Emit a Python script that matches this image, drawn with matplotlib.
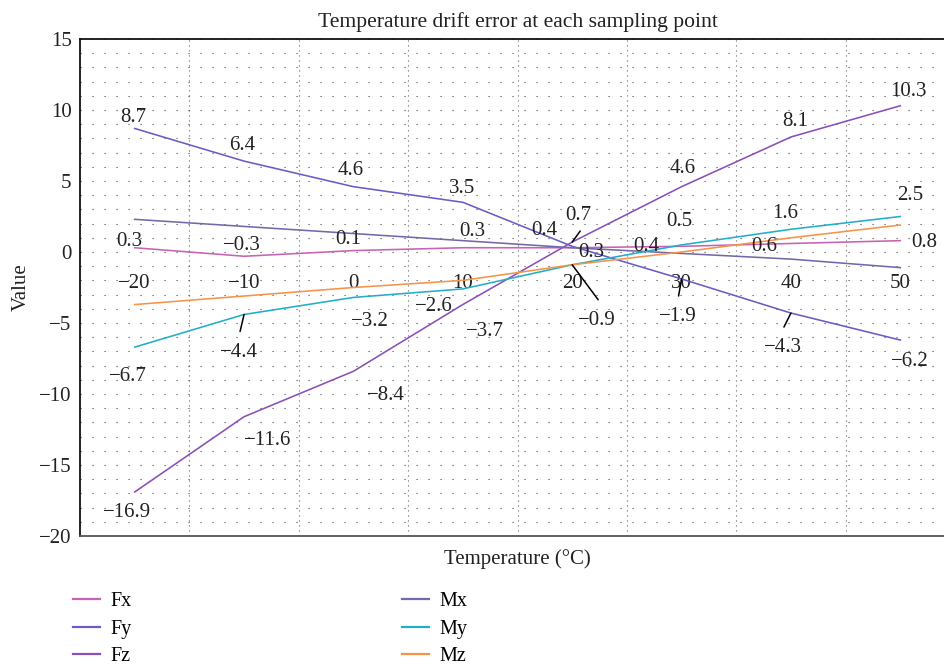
import matplotlib
matplotlib.use('Agg')
import matplotlib.pyplot as plt
from matplotlib.ticker import MultipleLocator, FixedLocator
from matplotlib.lines import Line2D

# ---------------- data ----------------
temps = [-20, -10, 0, 10, 20, 30, 40, 50]
temp_labels = ['\u221220', '\u221210', '0', '10', '20', '30', '40', '50']
series_names = ['Fx', 'Fy', 'Fz', 'Mx', 'My', 'Mz']
Fx = [0.3, -0.3, 0.1, 0.3, 0.3, 0.4, 0.6, 0.8]
Fy = [8.7, 6.4, 4.6, 3.5, 0.4, -1.9, -4.3, -6.2]
Fz = [-16.9, -11.6, -8.4, -3.7, 0.7, 4.6, 8.1, 10.3]
Mx = [2.3, 1.8, 1.3, 0.8, 0.3, -0.1, -0.5, -1.1]
My = [-6.7, -4.4, -3.2, -2.6, -0.9, 0.5, 1.6, 2.5]
Mz = [-3.7, -3.1, -2.5, -2.0, -0.9, 0.0, 1.0, 1.9]
yticks = [-20, -15, -10, -5, 0, 5, 10, 15]

# ---------------- styles ----------------
colors = {'Fx': '#c862b4', 'Fy': '#6b5cc4', 'Fz': '#8a4fb8',
          'Mx': '#7767a9', 'My': '#22aec8', 'Mz': '#f59448'}

# value-label placement: (index, dx_px, dy_px) relative to the data point
label_offsets = {
    'Fx': [(0, -5, 6), (1, -2, 11), (2, -5, 11), (3, 10, 16), (4, 19, -5),
           (5, -35, 0), (6, -27, -3), (7, 24, -2)],
    'Fy': [(0, -1, 11), (1, -2, 16), (2, -3, 16), (3, -1, 14), (4, -28, 16),
           (5, -4, -38), (6, -8, -34), (7, 10, -21)],
    'Fz': [(0, -8, -21), (1, 24, -24), (2, 32, -24), (3, 22, -27), (4, 6, 27),
           (5, 1, 18), (6, 4, 15), (7, 8, 14)],
    'Mx': [],
    'My': [(0, -7, -29), (1, -5, -38), (2, 16, -24), (3, -29, -18), (4, 25, -56),
           (5, -2, 23), (6, -6, 16), (7, 10, 21)],
    'Mz': [],
}
# leader lines: (series, index, start dx,dy px, end dx,dy px)
leaders = [('My', 1, 0, 0, -4, -17), ('My', 4, 1, 0, 26, -35),
           ('Fz', 4, 2, 0, 8, 11), ('Fy', 5, 0, -1, -3, -17),
           ('Fy', 6, 1, 0, -7, -14)]

data = {'Fx': Fx, 'Fy': Fy, 'Fz': Fz, 'Mx': Mx, 'My': My, 'Mz': Mz}

plt.rcParams['font.family'] = ['Liberation Serif', 'DejaVu Serif']
plt.rcParams['axes.unicode_minus'] = True
FS = 15
PX = 72.0 / 100.0  # px -> pt

fig = plt.figure(figsize=(9.45, 6.65), dpi=100)
ax = fig.add_axes([80 / 945, 129 / 665, 875 / 945, 497 / 665])

for name in series_names:
    ax.plot(temps, data[name], color=colors[name], lw=1.15, zorder=3)

def fmt(v):
    return f'{v:.1f}'.replace('-', '\u2212')

for name in series_names:
    vals = data[name]
    for i, dx, dy in label_offsets[name]:
        ax.annotate(fmt(vals[i]), xy=(temps[i], vals[i]),
                    xytext=(dx * PX, dy * PX), textcoords='offset points',
                    ha='center', va='center', fontsize=FS, color='#222222',
                    zorder=5)

for name, i, sx, sy, ex, ey in leaders:
    vals = data[name]
    ax.annotate('', xy=(temps[i], vals[i]), xytext=(ex * PX, ey * PX),
                textcoords='offset points',
                arrowprops=dict(arrowstyle='-', color='black', lw=1.1,
                                shrinkA=0, shrinkB=0), zorder=5)

# axis limits: categories padded by half a step
step = temps[1] - temps[0]
ax.set_xlim(temps[0] - step / 2, temps[-1] + step / 2)
ax.set_ylim(yticks[0], yticks[-1])
ax.set_yticks(yticks)
ax.set_yticklabels([str(t).replace('-', '\u2212') for t in yticks])
ax.yaxis.set_minor_locator(MultipleLocator(1))
ax.set_xticks(temps)
ax.set_xticklabels([])
ax.xaxis.set_minor_locator(FixedLocator([t + step / 2 for t in temps[:-1]]))

ax.tick_params(axis='both', which='both', length=0)
ax.tick_params(axis='y', labelsize=FS, pad=6, colors='#222222')

ax.grid(True, axis='y', which='both', color='#4a4a4a', lw=0.8,
        linestyle=(0, (1, 9.8)))
ax.grid(True, axis='x', which='minor', color='#666666', lw=0.8,
        linestyle=(0, (1, 3.5)))
ax.grid(False, axis='x', which='major')
ax.set_axisbelow(True)

for s in ['left', 'top']:
    ax.spines[s].set_color('#111111')
    ax.spines[s].set_linewidth(1.3)
ax.spines['bottom'].set_color('#555555')
ax.spines['bottom'].set_linewidth(1.3)
ax.spines['right'].set_visible(False)

# category labels along y = 0
ypos = (0 - yticks[0]) / (yticks[-1] - yticks[0])
sec = ax.secondary_xaxis(ypos)
sec.set_alignment('bottom')
sec.set_xticks(temps)
sec.set_xticklabels(temp_labels)
sec.tick_params(length=0, pad=16, labelsize=FS, colors='#222222')
for s in sec.spines.values():
    s.set_visible(False)

ax.set_title('Temperature drift error at each sampling point', fontsize=FS + 0.6,
             pad=9, color='#222222')
ax.set_xlabel('Temperature (\u00b0C)', fontsize=FS, labelpad=6, color='#222222')
ax.set_ylabel('Value', fontsize=FS, labelpad=6, color='#222222')

handles = [Line2D([0], [0], color=colors[n], lw=1.6) for n in series_names]
fig.legend(handles, series_names, ncol=2, loc='upper left',
           bbox_to_anchor=(73 / 945, 1 - 592 / 665), frameon=False,
           fontsize=14.5, handlelength=1.35, handletextpad=0.52,
           columnspacing=13.4, labelspacing=0.42, borderpad=0, borderaxespad=0)

fig.savefig('out.png', dpi=100)
